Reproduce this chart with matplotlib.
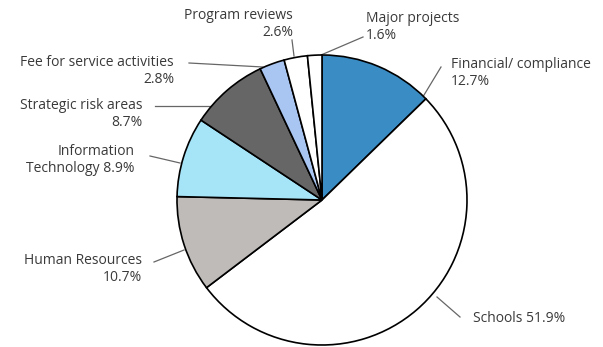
import matplotlib.pyplot as plt

plt.rcParams['font.family'] = ['Open Sans', 'DejaVu Sans']

labels = ['Financial/ compliance\n12.7%', 'Schools 51.9%', 'Human Resources\n10.7%',
          'Information\nTechnology 8.9%', 'Strategic risk areas\n8.7%',
          'Fee for service activities\n2.8%', 'Program reviews\n2.6%', 'Major projects\n1.6%']
values = [12.7, 51.9, 10.7, 8.9, 8.7, 2.8, 2.6, 1.6]
colors = ['#3a8cc5', '#ffffff', '#bfbbb9', '#a6e4f8', '#666666', '#a9c5f2', '#ffffff', '#ffffff']

# label placement in pixels (y measured from the top)
text_pos = [(451, 73), (473, 319), (142, 269), (135, 160), (142, 114),
            (174, 71), (293, 24), (366, 27)]
line_out = [(441, 67), (460, 317), (154, 262), (150, 156), (155, 106),
            (189, 63), (292, 40), (363, 37)]
line_in = [(421, 100), (437, 297), (184, 250), (180, 163), (211, 106),
           (263, 67), (294, 56), (321, 55)]
ha = ['left', 'left', 'right', 'right', 'right', 'right', 'right', 'left']

W, H = 603, 347
cx, cy, r = 322, H - 200, 145

fig = plt.figure(figsize=(W / 100, H / 100), dpi=100)
ax = fig.add_axes([0, 0, 1, 1])

ax.pie(values, colors=colors, startangle=90, counterclock=False,
       center=(cx, cy), radius=r, frame=True,
       wedgeprops=dict(edgecolor='black', linewidth=1.2))
ax.set_xlim(0, W)
ax.set_ylim(0, H)
ax.set_aspect('equal')
ax.axis('off')

for lab, tp, lo, li, h in zip(labels, text_pos, line_out, line_in, ha):
    ax.plot([lo[0], li[0]], [H - lo[1], H - li[1]], color='#666666', lw=0.9, zorder=0)
    ax.text(tp[0], H - tp[1], lab, ha=h, va='center', fontsize=10,
            color='#3a3a3a', linespacing=1.1, multialignment=h)

fig.savefig('out.png', dpi=100)
